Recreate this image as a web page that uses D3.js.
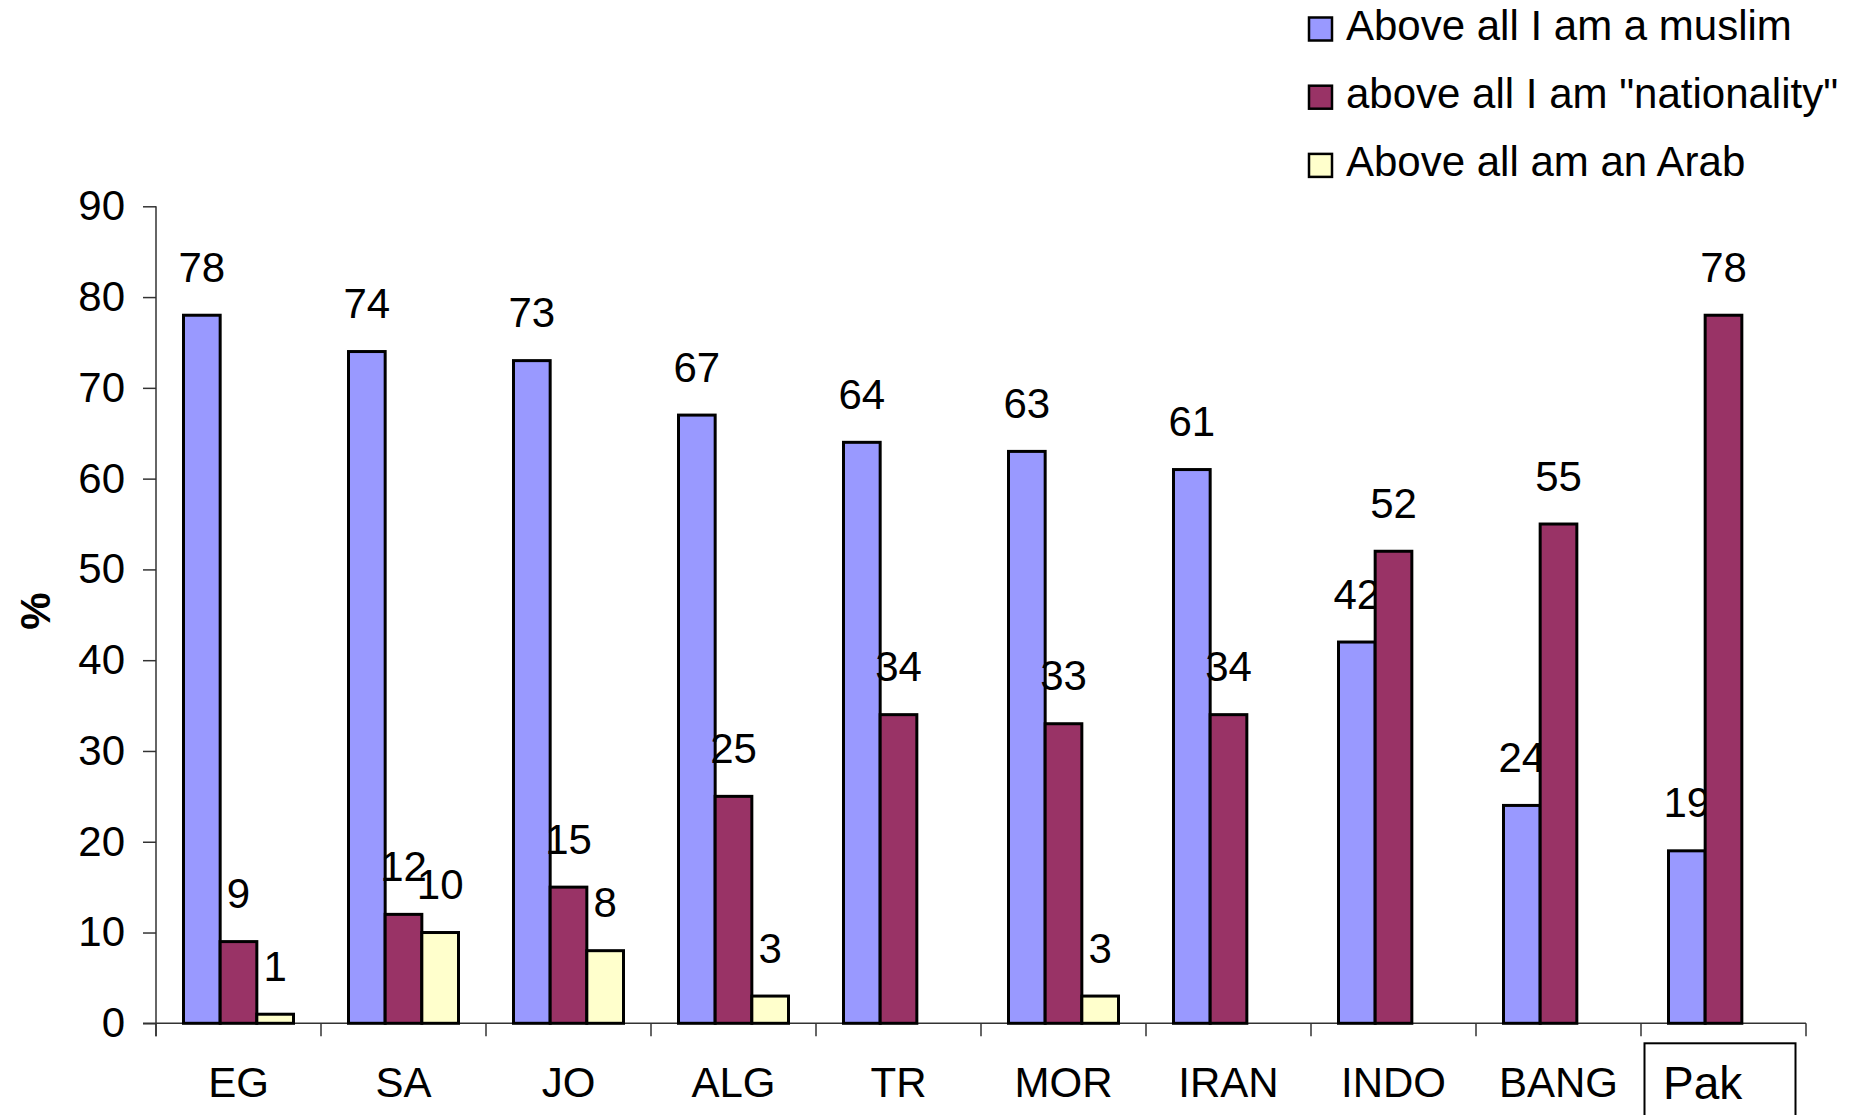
<!DOCTYPE html>
<html lang="en">
  <head>
    <meta charset="UTF-8">
    <title>Identity by country</title>
    <style>
      body {
        margin: 0;
        background: white;
      }

      text {
        font-family: "Liberation Sans", Arial, sans-serif;
        fill: black;
      }

      .bar {
        stroke: black;
        stroke-width: 3;
      }

      .axis-line {
        stroke: #333;
        stroke-width: 1.5;
      }

      .axis .tick line {
        stroke: #333;
        stroke-width: 1.5;
      }
    </style>
    <script src="https://d3js.org/d3.v7.min.js"></script>
  </head>
  <body>
    <script>
      const categories = ["EG", "SA", "JO", "ALG", "TR", "MOR", "IRAN", "INDO", "BANG", "Pak"];
      const muslim = [78, 74, 73, 67, 64, 63, 61, 42, 24, 19];
      const nationality = [9, 12, 15, 25, 34, 33, 34, 52, 55, 78];
      const arab = [1, 10, 8, 3, null, 3, null, null, null, null];
      const seriesNames = ["Above all I am a muslim", 'above all I am "nationality"', "Above all am an Arab"];
      const seriesColors = ["#9999ff", "#993366", "#ffffcc"];
      const yTicks = [0, 10, 20, 30, 40, 50, 60, 70, 80, 90];

      const series = [muslim, nationality, arab];

      const fullWidth = 1854;
      const fullHeight = 1115;
      const margin = { top: 206.3, left: 156 };
      const width = 1650;
      const height = 817;

      const svg = d3.select("body")
        .append("svg")
        .attr("width", fullWidth)
        .attr("height", fullHeight);

      const g = svg.append("g")
        .attr("transform", `translate(${margin.left},${margin.top})`);

      const y = d3.scaleLinear()
        .domain([0, 90])
        .range([height, 0]);

      const x = d3.scaleBand()
        .domain(categories)
        .range([0, width]);

      // 3 slots per country, gap of half a bar on each side
      const x1 = d3.scaleBand()
        .domain([0, 1, 2])
        .range([0, x.bandwidth()])
        .paddingInner(0)
        .paddingOuter(0.75);

      // y axis
      const yAxis = g.append("g")
        .attr("class", "axis axis-y")
        .call(d3.axisLeft(y).tickValues(yTicks).tickSize(13).tickPadding(18));
      yAxis.select(".domain").remove();
      yAxis.selectAll("text")
        .attr("font-size", 42)
        .attr("font-family", null);

      g.append("line")
        .attr("class", "axis-line")
        .attr("x1", 0).attr("x2", 0)
        .attr("y1", 0).attr("y2", height + 13);

      // x axis: labels at centres, ticks on the boundaries
      const xAxis = g.append("g")
        .attr("class", "axis axis-x")
        .attr("transform", `translate(0,${height})`)
        .call(d3.axisBottom(x).tickSize(0));
      xAxis.select(".domain").remove();
      xAxis.selectAll("text")
        .attr("font-size", 42)
        .attr("font-family", null)
        .attr("dy", null)
        .attr("y", 74);

      // Pak label sits in its own box
      xAxis.selectAll(".tick")
        .filter(d => d === "Pak")
        .select("text")
        .attr("font-size", 46)
        .attr("text-anchor", "start")
        .attr("x", -60.5)
        .attr("y", 76);

      g.append("rect")
        .attr("x", x("Pak") + 3.5)
        .attr("y", height + 20)
        .attr("width", 151)
        .attr("height", 120)
        .attr("fill", "none")
        .attr("stroke", "black")
        .attr("stroke-width", 2);

      g.append("line")
        .attr("class", "axis-line")
        .attr("x1", -13).attr("x2", width)
        .attr("y1", height).attr("y2", height);

      const bounds = [0].concat(categories.map(c => x(c) + x.bandwidth()));
      g.append("g")
        .selectAll("line")
        .data(bounds)
        .enter()
        .append("line")
        .attr("class", "axis-line")
        .attr("x1", d => d).attr("x2", d => d)
        .attr("y1", height).attr("y2", height + 13);

      // bars then labels, one series at a time so later bars cover earlier labels
      series.forEach((values, s) => {
        const rows = categories
          .map((c, i) => ({ cat: c, value: values[i] }))
          .filter(d => d.value !== null);

        const sg = g.append("g");

        sg.selectAll(".bar")
          .data(rows)
          .enter()
          .append("rect")
          .attr("class", "bar")
          .attr("fill", seriesColors[s])
          .attr("x", d => x(d.cat) + x1(s))
          .attr("y", d => y(d.value))
          .attr("width", x1.bandwidth())
          .attr("height", d => height - y(d.value));

        sg.selectAll(".label")
          .data(rows)
          .enter()
          .append("text")
          .attr("class", "label")
          .attr("text-anchor", "middle")
          .attr("font-size", 42)
          .attr("x", d => x(d.cat) + x1(s) + x1.bandwidth() / 2)
          .attr("y", d => y(d.value) - 33.5)
          .text(d => d.value);
      });

      // y title
      svg.append("text")
        .attr("transform", "translate(50,611) rotate(-90)")
        .attr("text-anchor", "middle")
        .attr("font-size", 42)
        .attr("font-weight", "bold")
        .text("%");

      // legend
      const legend = svg.append("g")
        .attr("transform", "translate(1309,0)");

      const items = legend.selectAll(".item")
        .data(seriesNames)
        .enter()
        .append("g")
        .attr("class", "item")
        .attr("transform", (d, i) => `translate(0,${39.5 + i * 68.2})`);

      items.append("rect")
        .attr("x", 0)
        .attr("y", -22)
        .attr("width", 23)
        .attr("height", 23)
        .attr("fill", (d, i) => seriesColors[i])
        .attr("stroke", "black")
        .attr("stroke-width", 2.5);

      items.append("text")
        .attr("x", 37)
        .attr("y", 0)
        .attr("font-size", 42)
        .text(d => d);
    </script>
  </body>
</html>
